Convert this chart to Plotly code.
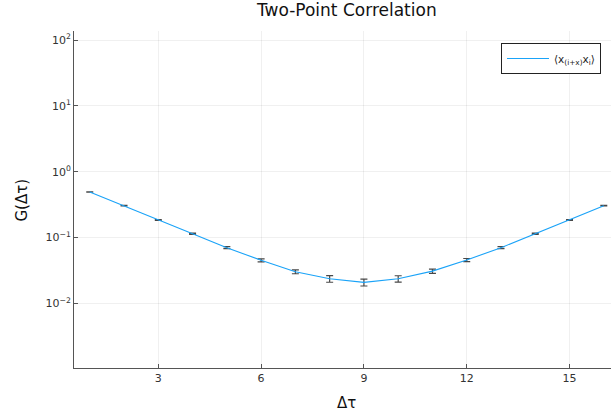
import plotly.graph_objects as go

# Two-point correlation G(Δτ) with statistical errors
dtau = list(range(1, 17))
G = [0.49, 0.304, 0.1845, 0.114, 0.070, 0.0450, 0.0302, 0.0236, 0.0208,
     0.0236, 0.0308, 0.0455, 0.070, 0.114, 0.1845, 0.304]
G_err = [0.0025, 0.0025, 0.0025, 0.0025, 0.0025, 0.0024, 0.0021, 0.0027, 0.0025,
         0.0026, 0.0023, 0.0024, 0.0025, 0.0025, 0.0025, 0.0025]

ytick_vals = [1e-2, 1e-1, 1e0, 1e1, 1e2]
ytick_text = ["10<sup>\u22122</sup>", "10<sup>\u22121</sup>", "10<sup>0</sup>",
              "10<sup>1</sup>", "10<sup>2</sup>"]
xtick_vals = [3, 6, 9, 12, 15]

L, R, T, B = 74, 0, 31, 47
W, H = 611, 415
pw = W - L - R
ph = H - T - B

fig = go.Figure()
fig.add_trace(go.Scatter(
    x=dtau, y=G, mode="lines",
    name="\u27e8x<sub>(i+x)</sub>x<sub>i</sub>\u27e9",
    line=dict(color="#1aa3f8", width=1.1),
    error_y=dict(type="data", array=G_err, visible=True,
                 color="rgba(40,40,40,0.85)", thickness=1.2, width=3.5),
))

font = "DejaVu Sans, sans-serif"
fig.update_layout(
    width=W, height=H,
    margin=dict(l=L, r=R, t=T, b=B, pad=0),
    paper_bgcolor="white", plot_bgcolor="white",
    font=dict(family=font, color="#222"),
    showlegend=True,
    legend=dict(x=(601 - L) / pw, xanchor="right", y=(H - B - 43) / ph, yanchor="top",
                bordercolor="#222", borderwidth=1, bgcolor="white", itemwidth=42,
                font=dict(size=10.5, family=font), tracegroupgap=0),
    xaxis=dict(range=[0.54, 16.21], tickvals=xtick_vals, ticks="inside", ticklen=4,
               tickcolor="#555", showline=True, linecolor="#555", linewidth=1,
               showgrid=True, gridcolor="rgba(0,0,0,0.06)", gridwidth=1,
               zeroline=False, tickfont=dict(size=11, family=font, color="#333")),
    yaxis=dict(type="log", range=[-2.983, 2.137], tickvals=ytick_vals, ticktext=ytick_text,
               ticks="inside", ticklen=4, tickcolor="#555", showline=True,
               linecolor="#555", linewidth=1, showgrid=True,
               gridcolor="rgba(0,0,0,0.06)", gridwidth=1, zeroline=False,
               tickfont=dict(size=11, family=font, color="#333")),
    annotations=[
        dict(text="Two-Point Correlation", xref="paper", yref="paper",
             x=(346 - L) / pw, y=(H - B - 10) / ph, xanchor="center", yanchor="middle",
             showarrow=False, font=dict(size=17, family=font, color="#111")),
        dict(text="\u0394\u03c4", xref="paper", yref="paper",
             x=(346 - L) / pw, y=(H - B - 403) / ph, xanchor="center", yanchor="middle",
             showarrow=False, font=dict(size=15, family=font, color="#111")),
        dict(text="G(\u0394\u03c4)", xref="paper", yref="paper", textangle=-90,
             x=(21 - L) / pw, y=0.5, xanchor="center", yanchor="middle",
             showarrow=False, font=dict(size=15, family=font, color="#111")),
    ],
)

fig.write_html("out.html")
